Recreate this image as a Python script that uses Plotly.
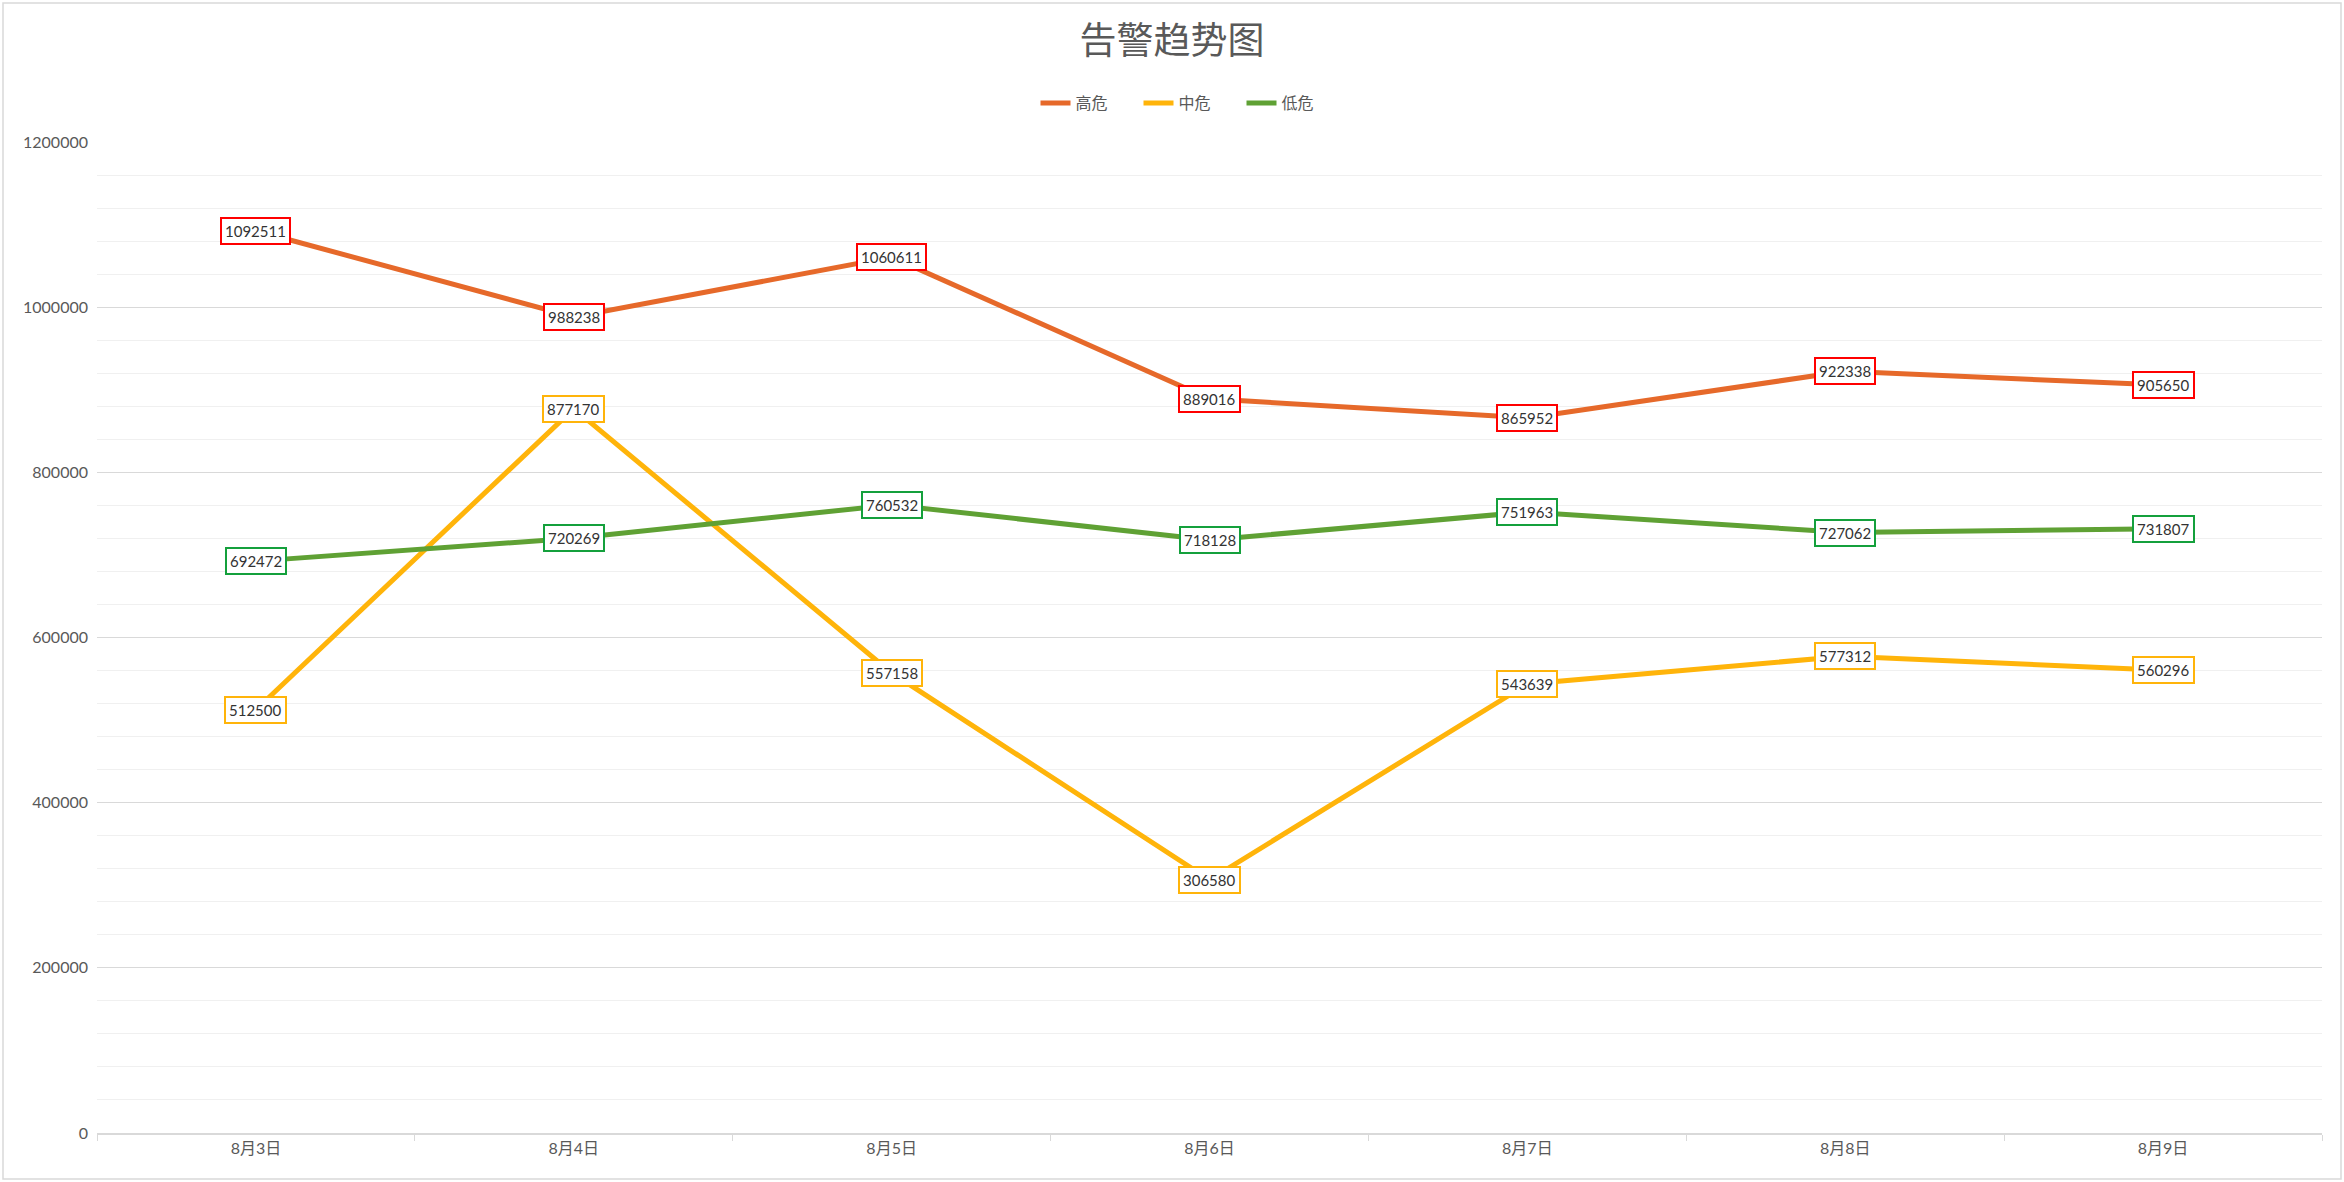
import plotly.graph_objects as go

categories = ["8月3日", "8月4日", "8月5日", "8月6日", "8月7日", "8月8日", "8月9日"]
high = [1092511, 988238, 1060611, 889016, 865952, 922338, 905650]
mid = [512500, 877170, 557158, 306580, 543639, 577312, 560296]
low = [692472, 720269, 760532, 718128, 751963, 727062, 731807]
series_names = ["高危", "中危", "低危"]
title_text = "告警趋势图"

W, H = 2344, 1182
ML, MR, MT, MB = 97, 22, 142, 49

line_colors = ["#E6692A", "#FFB40A", "#5FA134"]
box_colors = ["#FF0000", "#FFB40A", "#14A03C"]
FONT = "Lato, 'Noto Sans CJK SC', sans-serif"

fig = go.Figure()
for name, vals, col in zip(series_names, [high, mid, low], line_colors):
    fig.add_trace(go.Scatter(
        x=categories, y=vals, name=name, mode="lines",
        line=dict(color=col, width=5),
    ))

annotations = []
for vals, bc in zip([high, mid, low], box_colors):
    for c, v in zip(categories, vals):
        annotations.append(dict(
            x=c, y=v, xref="x", yref="y", text=str(v), showarrow=False,
            bgcolor="white", bordercolor=bc, borderwidth=2, borderpad=3,
            font=dict(family=FONT, size=15, color="#333333"),
            xanchor="center", yanchor="middle",
        ))

pw = W - ML - MR
ph = H - MT - MB
fig.update_layout(
    width=W, height=H,
    margin=dict(l=ML, r=MR, t=MT, b=MB, pad=0),
    paper_bgcolor="white", plot_bgcolor="white",
    font=dict(family=FONT, color="#595959"),
    title=dict(text=title_text, x=0.5, xref="container", xanchor="center",
               y=1 - 41 / H, yref="container", yanchor="middle",
               font=dict(family="'Noto Sans CJK SC', sans-serif", size=37, color="#595959")),
    legend=dict(orientation="h", x=0.5 + 18 / W, xref="container", xanchor="center",
                y=1 - 103 / H, yref="container", yanchor="middle",
                font=dict(family="'Noto Sans CJK SC', sans-serif", size=16, color="#595959"),
                entrywidth=58, entrywidthmode="pixels", itemwidth=30, tracegroupgap=0),
    showlegend=True,
    annotations=annotations,
    shapes=[dict(type="rect", xref="paper", yref="paper",
                 x0=-(ML - 3) / pw, x1=1 + (MR - 3) / pw,
                 y0=-(MB - 3) / ph, y1=1 + (MT - 3) / ph,
                 line=dict(color="#D9D9D9", width=1.5), layer="below")],
)
fig.update_xaxes(
    type="category", range=[-0.5, 6.5], showgrid=False,
    showline=True, linecolor="#D9D9D9", linewidth=1.5,
    ticks="outside", tickson="boundaries", ticklen=6, tickcolor="#D9D9D9",
    tickfont=dict(family=FONT, size=16, color="#595959"),
    zeroline=False, fixedrange=True,
)
fig.update_yaxes(
    range=[0, 1200000], dtick=200000, tick0=0, tickformat="d",
    showgrid=True, gridcolor="#D9D9D9", gridwidth=1.2,
    minor=dict(dtick=40000, showgrid=True, gridcolor="#F0F0F0", gridwidth=1.2),
    zeroline=False, showline=False, ticks="",
    tickfont=dict(family=FONT, size=16, color="#595959"),
    ticklabelstandoff=8,
)

fig.write_html("out.html", config={"displayModeBar": False},
               post_script="document.body.style.margin='0';document.body.style.overflow='hidden';")
